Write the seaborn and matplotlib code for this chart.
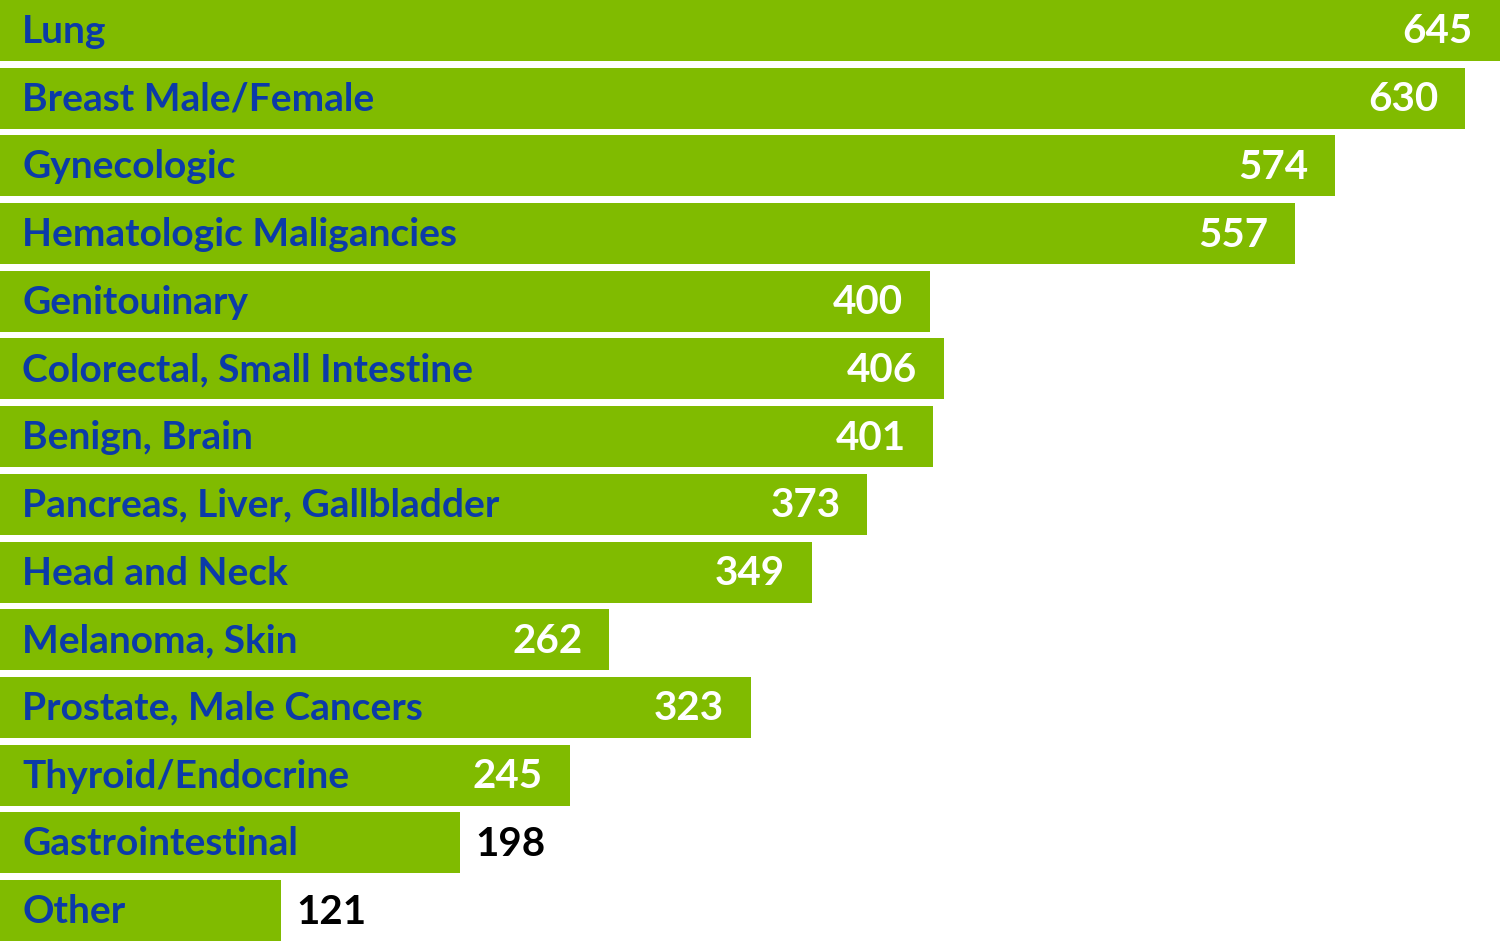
import matplotlib
matplotlib.use("Agg")
import matplotlib.pyplot as plt
import seaborn as sns
import pandas as pd
from matplotlib.transforms import offset_copy

categories = ["Lung", "Breast Male/Female", "Gynecologic", "Hematologic Maligancies",
              "Genitouinary", "Colorectal, Small Intestine", "Benign, Brain",
              "Pancreas, Liver, Gallbladder", "Head and Neck", "Melanoma, Skin",
              "Prostate, Male Cancers", "Thyroid/Endocrine", "Gastrointestinal", "Other"]
values = [645, 630, 574, 557, 400, 406, 401, 373, 349, 262, 323, 245, 198, 121]

df = pd.DataFrame({"category": categories, "value": values})

sns.set_theme(style="white")
plt.rcParams["font.family"] = ["Lato", "DejaVu Sans"]

BAR = "#80bb00"
BLUE = "#0b3ba8"

fig = plt.figure(figsize=(15, 9.41), dpi=100)
ax = fig.add_axes([0, 0, 1, 1])
sns.barplot(data=df, x="value", y="category", orient="h", color=BAR,
            saturation=1, width=0.9, ax=ax, edgecolor="none")
ax.set_xlim(0, 645)
ax.set_ylim(len(categories) - 0.55, -0.45)
ax.axis("off")

fs = 28
dy = 2
for i, (c, v) in enumerate(zip(categories, values)):
    t_left = offset_copy(ax.transData, fig=fig, x=22, y=dy, units="dots")
    ax.text(0, i, c, transform=t_left, ha="left", va="center_baseline",
            color=BLUE, fontsize=fs, fontweight="bold")
    if v >= 240:
        t = offset_copy(ax.transData, fig=fig, x=-27, y=dy, units="dots")
        ax.text(v, i, str(v), transform=t, ha="right", va="center_baseline",
                color="white", fontsize=fs + 1, fontweight="bold")
    else:
        t = offset_copy(ax.transData, fig=fig, x=15, y=dy, units="dots")
        ax.text(v, i, str(v), transform=t, ha="left", va="center_baseline",
                color="black", fontsize=fs + 1, fontweight="bold")

fig.savefig("out.png", dpi=100, facecolor="white")
